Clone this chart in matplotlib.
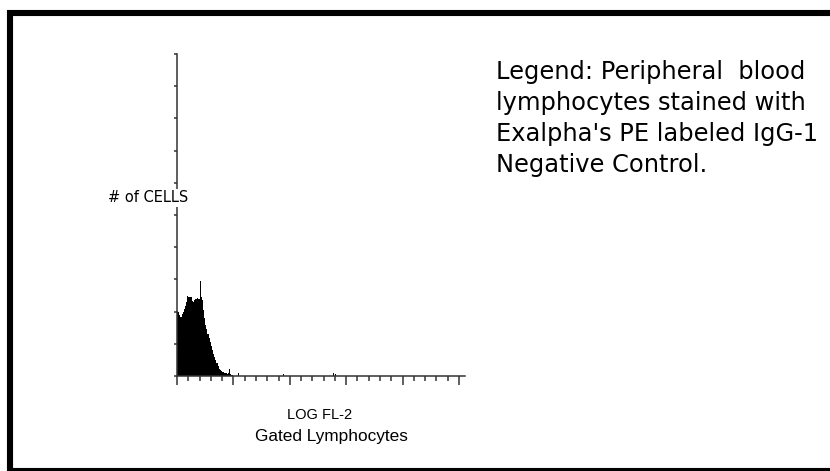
import numpy as np
import matplotlib
matplotlib.use("Agg")
import matplotlib.pyplot as plt
from matplotlib.patches import Rectangle
from matplotlib.ticker import MultipleLocator, NullFormatter

# histogram of LOG FL-2 (x in decades, bin width 0.02)
bin_width = 0.02
counts = [101, 99, 95, 92, 96, 99, 104, 109, 115, 124, 123, 123, 123, 116, 115,
          118, 120, 120, 121, 120, 148, 123, 118, 102, 90, 79, 73, 65, 59, 53,
          47, 40, 34, 30, 25, 20, 16, 11, 9, 8, 6, 6, 5, 5, 3, 5, 11, 3, 2, 2]
# scattered single events further out
sparse_x = [1.08, 1.88, 2.77, 2.80]
sparse_counts = [5, 3, 5, 3]

legend_lines = ["Legend: Peripheral  blood",
                "lymphocytes stained with",
                "Exalpha's PE labeled IgG-1",
                "Negative Control."]

fig = plt.figure(figsize=(8.3, 4.71), dpi=100)
fig.patch.set_facecolor("white")

# thick frame round the picture (right and bottom run off the edge)
fig.patches.append(Rectangle((10 / 830, 0.0), 1.2, 458 / 471,
                             transform=fig.transFigure, fill=False,
                             edgecolor="black", linewidth=4.4))

ax = fig.add_axes([177 / 830, 95 / 471, 288 / 830, 322 / 471])
x = np.arange(len(counts)) * bin_width
ax.bar(x, counts, width=bin_width, align="edge", color="black", linewidth=0)
ax.bar(sparse_x, sparse_counts, width=bin_width, align="edge", color="black", linewidth=0)

ax.set_xlim(0, 5.106)
ax.set_ylim(0, 500)
for s in ["top", "right"]:
    ax.spines[s].set_visible(False)
for s in ["left", "bottom"]:
    ax.spines[s].set_color("#333333")
    ax.spines[s].set_linewidth(1.1)

ax.xaxis.set_major_locator(MultipleLocator(1))
ax.xaxis.set_minor_locator(MultipleLocator(0.2))
ax.yaxis.set_major_locator(MultipleLocator(50))
ax.xaxis.set_major_formatter(NullFormatter())
ax.yaxis.set_major_formatter(NullFormatter())
ax.tick_params(axis="x", which="major", length=6.5, width=1.1, color="#333333", direction="out")
ax.tick_params(axis="x", which="minor", length=3.5, width=1.1, color="#333333", direction="out")
ax.tick_params(axis="y", which="major", length=2.5, width=1.1, color="#333333", direction="out")

fig.text(148 / 830, 1 - 198 / 471, "# of CELLS", fontsize=10.5, family="DejaVu Sans",
         ha="center", va="center",
         bbox=dict(facecolor="white", edgecolor="none", pad=1.0))

fig.text(320 / 830, 1 - 415 / 471, "LOG FL-2", fontsize=10.5,
         family="Liberation Sans", ha="center", va="center")
fig.text(331 / 830, 1 - 436 / 471, "Gated Lymphocytes", fontsize=12.4,
         family="Liberation Sans", ha="center", va="center")

for i, line in enumerate(legend_lines):
    fig.text(496 / 830, 1 - (72 + 31 * i) / 471, line, fontsize=17.4,
             family="DejaVu Sans", ha="left", va="center")

fig.savefig("out.png", dpi=100)
